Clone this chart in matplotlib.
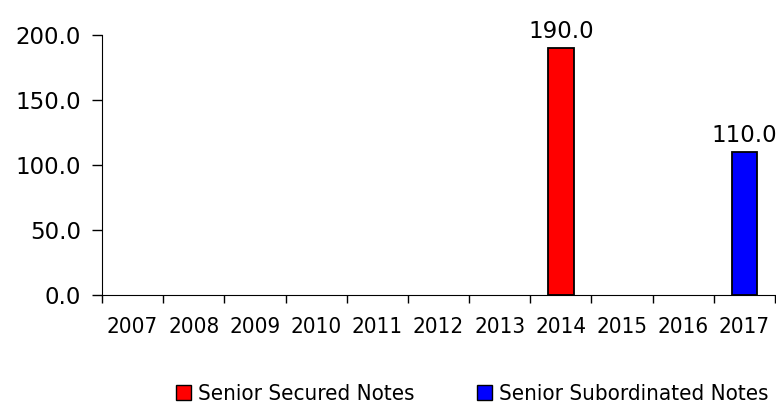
import matplotlib.pyplot as plt
from matplotlib.patches import Patch
import numpy as np

years = ['2007', '2008', '2009', '2010', '2011', '2012', '2013', '2014', '2015', '2016', '2017']
secured = [0, 0, 0, 0, 0, 0, 0, 190.0, 0, 0, 0]
subordinated = [0, 0, 0, 0, 0, 0, 0, 0, 0, 0, 110.0]
y_ticks = [0, 50, 100, 150, 200]

fig = plt.figure(figsize=(7.76, 4.04), dpi=100)
ax = fig.add_axes([0.1314, 0.2698, 0.8673, 0.6436])

x = np.arange(len(years))
# zero values are left out (no bar drawn)
sec = np.array([v if v > 0 else np.nan for v in secured])
sub = np.array([v if v > 0 else np.nan for v in subordinated])
ax.bar(x, sec, width=0.42, color='#ff0000', edgecolor='black', linewidth=1.3)
ax.bar(x, sub, width=0.42, color='#0000ff', edgecolor='black', linewidth=1.3)

for i in range(len(years)):
    for v in (secured[i], subordinated[i]):
        if v > 0:
            ax.annotate(f'{v:.1f}', (x[i], v), xytext=(0, 3.5), textcoords='offset points',
                        ha='center', va='bottom', fontsize=16.5, family='DejaVu Sans')

ax.set_xlim(-0.5, len(years) - 0.5)
ax.set_ylim(0, 200)
ax.set_yticks(y_ticks)
ax.set_yticklabels([f'{t:.1f}' for t in y_ticks], fontsize=16.5, family='DejaVu Sans')
ax.tick_params(axis='y', length=7, width=1, pad=8)

# tick marks between categories, labels under categories
ax.set_xticks(np.arange(-0.5, len(years), 1.0))
ax.set_xticklabels([])
ax.tick_params(axis='x', which='major', length=6, width=1)
ax.set_xticks(x, minor=True)
ax.set_xticklabels(years, minor=True, fontsize=16, family='DejaVu Sans', stretch='condensed')
ax.tick_params(axis='x', which='minor', length=0, pad=16)

for s in ['top', 'right']:
    ax.spines[s].set_visible(False)

handles = [Patch(facecolor='#ff0000', edgecolor='black', label='Senior Secured Notes'),
           Patch(facecolor='#0000ff', edgecolor='black', label='Senior Subordinated Notes')]
fig.legend(handles=handles, loc='center', bbox_to_anchor=(0.609, 0.024), ncol=2, frameon=False,
           prop={'family': 'DejaVu Sans', 'size': 16, 'stretch': 'condensed'},
           borderpad=0, handlelength=0.68, handleheight=0.68, handletextpad=0.32, columnspacing=2.8)

plt.savefig('out.png', dpi=100)
